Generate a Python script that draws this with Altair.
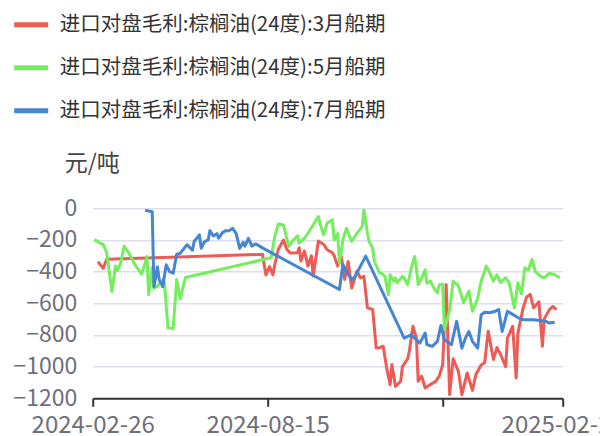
import altair as alt
import pandas as pd

# Category axis labels (index positions on a trading-day category axis)
tick_positions = [0, 100, 200, 268.6]
tick_labels = ["2024-02-26", "2024-08-15", "", "2025-02-25"]

series_names = [
    "进口对盘毛利:棕榈油(24度):3月船期",
    "进口对盘毛利:棕榈油(24度):5月船期",
    "进口对盘毛利:棕榈油(24度):7月船期",
]
series_colors = ["#EE5A54", "#74EE5C", "#4585D3"]

# 3月船期
red_idx = [3, 6, 8, 97, 99, 101, 103, 104, 106, 109, 111, 113, 117, 118, 119, 121, 123, 125, 126,
           129, 132, 134, 137, 138, 140, 142, 144, 146, 148, 151, 153, 155, 157, 160, 162, 164, 166,
           168, 170, 171, 173, 176, 177, 180, 181, 183, 185, 186, 188, 190, 192, 196, 198, 200, 202,
           204, 206, 209, 211, 214, 217, 219, 222, 224, 226, 229, 231, 233, 236, 237, 240, 242, 243,
           246, 248, 250, 252, 255, 257, 258, 261, 263, 265]
red_val = [-337, -379, -322, -291, -421, -368, -421, -358, -262, -200, -260, -283, -280, -249, -333,
           -270, -365, -300, -428, -207, -228, -262, -281, -300, -365, -300, -449, -336, -504, -397,
           -440, -430, -629, -639, -882, -880, -871, -1008, -1114, -987, -1125, -1093, -1000, -950,
           -900, -745, -820, -1093, -1060, -1135, -1120, -1093, -1060, -990, -481, -1177, -950, -1030,
           -1177, -1040, -1150, -1050, -990, -975, -776, -955, -880, -920, -1000, -820, -745, -1072,
           -790, -629, -560, -544, -629, -590, -871, -700, -640, -620, -640]

# 5月船期
green_idx = [1, 4, 6, 8, 11, 13, 14, 16, 18, 20, 24, 28, 31, 32, 34, 35, 37, 40, 41, 43, 46, 48, 50,
             53, 98, 102, 104, 106, 109, 112, 114, 117, 118, 121, 124, 129, 130, 132, 134, 137, 138,
             140, 141, 143, 145, 148, 151, 153, 154, 155, 157, 158, 160, 161, 164, 165, 167, 169, 170,
             172, 173, 174, 177, 178, 180, 182, 184, 185, 186, 188, 190, 191, 193, 195, 197, 198, 200,
             201, 204, 206, 209, 212, 215, 217, 220, 222, 225, 226, 229, 231, 233, 236, 238, 241, 243,
             245, 247, 249, 251, 253, 256, 258, 261, 264, 267]
green_val = [-198, -218, -228, -281, -525, -364, -395, -345, -240, -270, -354, -416, -305, -545, -375,
             -505, -493, -450, -470, -755, -760, -450, -573, -437, -322, -312, -180, -99, -105, -241,
             -210, -174, -220, -190, -140, -52, -100, -168, -94, -73, -200, -160, -346, -200, -126,
             -210, -158, -130, -115, -10, -158, -210, -252, -336, -410, -410, -430, -546, -420, -460,
             -441, -470, -430, -440, -483, -380, -304, -380, -483, -440, -388, -473, -460, -504, -534,
             -483, -480, -770, -640, -460, -490, -597, -523, -650, -570, -460, -365, -385, -460, -420,
             -470, -439, -470, -629, -470, -540, -376, -390, -323, -400, -430, -439, -410, -420, -439]

# 7月船期
blue_idx = [30, 34, 35, 37, 38, 40, 42, 44, 46, 48, 50, 53, 54, 57, 58, 61, 62, 64, 66, 67, 69, 71, 72,
            74, 76, 78, 80, 82, 84, 86, 87, 89, 91, 93, 95, 97, 141, 143, 145, 148, 150, 156, 178, 182,
            184, 187, 190, 191, 194, 197, 199, 201, 205, 208, 211, 213, 215, 217, 220, 222, 224, 227,
            230, 232, 234, 237, 240, 243, 246, 252, 259, 261, 264]
blue_val = [-12, -22, -495, -370, -450, -495, -357, -400, -410, -290, -285, -242, -230, -265, -210, -168,
            -253, -210, -200, -141, -175, -160, -189, -155, -141, -141, -126, -160, -253, -215, -239,
            -190, -239, -225, -236, -250, -513, -355, -400, -450, -430, -302, -820, -799, -820, -851,
            -788, -860, -872, -840, -740, -830, -862, -714, -883, -820, -778, -840, -883, -672, -657,
            -660, -650, -640, -778, -651, -670, -690, -704, -704, -714, -725, -720]

y_ticks = [0, -200, -400, -600, -800, -1000, -1200]

frames = []
for name, xs, ys in zip(series_names, [red_idx, green_idx, blue_idx], [red_val, green_val, blue_val]):
    frames.append(pd.DataFrame({"series": name, "idx": xs, "value": ys}))
df = pd.concat(frames, ignore_index=True)

label_expr = " : ".join(
    f"datum.value == {p} ? '{l}'" for p, l in zip(tick_positions, tick_labels)
) + " : ''"

FONT = "Noto Sans CJK SC"

chart = (
    alt.Chart(df)
    .mark_line(strokeWidth=3, strokeJoin="round")
    .encode(
        x=alt.X(
            "idx:Q",
            scale=alt.Scale(domain=[0, 268.6], nice=False, zero=False),
            axis=alt.Axis(
                values=tick_positions,
                labelExpr=label_expr,
                title=None,
                grid=False,
                domainColor="#333333",
                domainWidth=2,
                tickColor="#333333",
                tickWidth=2,
                tickSize=8,
                labelColor="#6E7079",
                labelFontSize=24,
                labelFont=FONT,
                labelPadding=7,
                labelFlush=False,
                labelOverlap=False,
                labelBound=False,
            ),
        ),
        y=alt.Y(
            "value:Q",
            scale=alt.Scale(domain=[-1200, 0], nice=False, zero=False),
            axis=alt.Axis(
                values=y_ticks,
                format="d",
                title="元/吨",
                titleAngle=0,
                titleAlign="center",
                titleBaseline="middle",
                titleX=-1,
                titleY=-45,
                titleFont=FONT,
                titleFontSize=23,
                titleFontWeight="normal",
                titleColor="#444444",
                domain=False,
                ticks=False,
                grid=True,
                gridColor="#DCE0EC",
                gridWidth=1.5,
                labelColor="#6E7079",
                labelFontSize=23,
                labelFont=FONT,
                labelPadding=16,
                labelOverlap=False,
            ),
        ),
        color=alt.Color(
            "series:N",
            scale=alt.Scale(domain=series_names, range=series_colors),
            legend=alt.Legend(
                title=None,
                orient="none",
                legendX=-81,
                legendY=-203,
                direction="vertical",
                symbolType="stroke",
                symbolSize=1156,
                symbolStrokeWidth=5,
                labelFont=FONT,
                labelFontSize=20.5,
                labelColor="#333333",
                labelOffset=9,
                rowPadding=13,
                padding=0,
                labelLimit=500,
            ),
        ),
    )
    .properties(
        width=470,
        height=190,
        padding={"left": 84.7, "top": 200.3, "right": 37.3, "bottom": 37.7},
        autosize=alt.AutoSizeParams(type="none"),
    )
    .configure_view(stroke=None)
)

chart.save("out.html", embed_options={"renderer": "svg", "actions": False})
